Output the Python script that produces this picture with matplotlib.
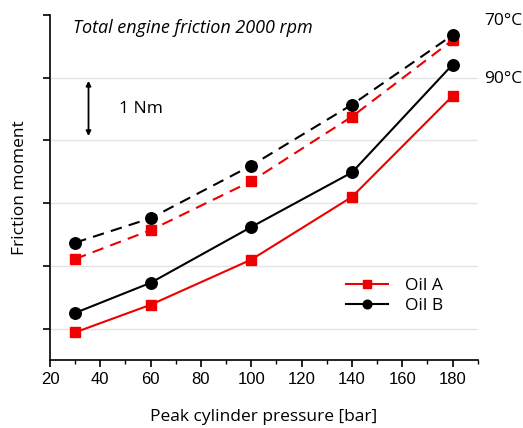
import matplotlib
matplotlib.use("Agg")
from matplotlib import pyplot as plt
from matplotlib.ticker import MultipleLocator

plt.rcParams['font.family'] = ['Open Sans', 'DejaVu Sans']

pressure = [30, 60, 100, 140, 180]

# friction moment in Nm (relative), 90 C solid, 70 C dashed
oil_a_90 = [-0.06, 0.38, 1.10, 2.10, 3.71]
oil_b_90 = [0.25, 0.73, 1.62, 2.49, 4.21]
oil_a_70 = [1.11, 1.57, 2.35, 3.38, 4.60]
oil_b_70 = [1.37, 1.76, 2.60, 3.57, 4.68]

red = '#ee0000'

fig = plt.figure(figsize=(5.23, 4.28), dpi=100)
ax = fig.add_axes([0.0956, 0.159, 0.818, 0.806])

dash = (0, (5.5, 3.5))
ax.plot(pressure, oil_a_70, color=red, lw=1.5, ls=dash, marker='s', ms=7.3, zorder=3)
ax.plot(pressure, oil_b_70, color='black', lw=1.5, ls=dash, marker='o', ms=8.3, zorder=3)
ax.plot(pressure, oil_a_90, color=red, lw=1.5, marker='s', ms=7.3, label='Oil A', zorder=3)
ax.plot(pressure, oil_b_90, color='black', lw=1.5, marker='o', ms=8.3, label='Oil B', zorder=3)

ax.set_xlim(20, 190)
ax.set_ylim(-0.5, 5)
ax.set_xticks(range(20, 181, 20))
ax.xaxis.set_minor_locator(MultipleLocator(10))
ax.set_yticks([0, 1, 2, 3, 4, 5])
ax.set_yticklabels([])
ax.tick_params(axis='x', labelsize=12, length=5, width=1.2, direction='out')
ax.tick_params(axis='x', which='minor', length=3, width=1.0)
ax.tick_params(axis='y', length=5, width=1.2, direction='out')
for lbl in ax.get_xticklabels():
    lbl.set_fontfamily(['Liberation Sans', 'DejaVu Sans'])

for s in ['top', 'right']:
    ax.spines[s].set_visible(False)
for s in ['left', 'bottom']:
    ax.spines[s].set_linewidth(1.2)

ax.grid(axis='y', color='#e3e3e3', lw=1)
ax.get_ygridlines()[-1].set_visible(False)
ax.set_axisbelow(True)

ax.set_xlabel('Peak cylinder pressure [bar]', fontsize=12.5, labelpad=16)
ax.set_ylabel('Friction moment', fontsize=12.5, labelpad=7)

ax.text(29, 4.8, 'Total engine friction 2000 rpm', fontsize=13, style='italic', va='center')
ax.text(192.5, 4.9, '70°C', fontsize=12.5, va='center', clip_on=False)
ax.text(192.5, 3.98, '90°C', fontsize=12.5, va='center', clip_on=False)

ax.annotate('', xy=(35.3, 3.95), xytext=(35.3, 3.07),
            arrowprops=dict(arrowstyle='<|-|>', color='black', lw=1.3, mutation_scale=7,
                            shrinkA=0, shrinkB=0))
ax.text(47.5, 3.5, '1 Nm', fontsize=12.5, va='center')

ax.legend(loc='center left', bbox_to_anchor=(0.655, 0.185), frameon=False, fontsize=12.5,
          handlelength=2.4, handletextpad=1.0, labelspacing=0.25, markerscale=0.75)

fig.savefig('out.png', dpi=100)
